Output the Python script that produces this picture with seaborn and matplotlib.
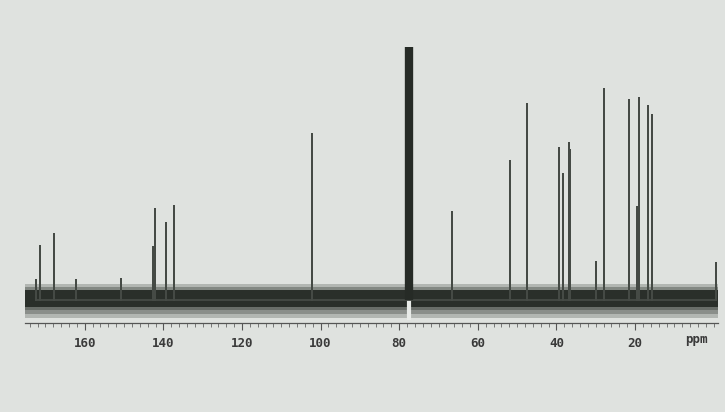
import matplotlib
matplotlib.use("Agg")
import matplotlib.pyplot as plt
import seaborn as sns
import pandas as pd

# peak positions (ppm) and heights (arbitrary units, baseline = 0)
ppm = [172.4, 171.4, 167.8, 162.2, 150.8, 142.6, 142.1, 139.3, 137.3,
       102.2, 66.6, 51.8, 47.5, 39.3, 38.3, 36.9, 36.6, 29.9, 27.9,
       21.5, 19.5, 19.0, 16.7, 15.7, -0.6]
height = [20, 54, 66, 20, 21, 53, 91, 77, 94,
          166, 88, 139, 196, 152, 126, 157, 150, 38, 211,
          200, 93, 202, 194, 185, 37]
solvent_ppm = 77.5
solvent_height = 253
tick_vals = [160, 140, 120, 100, 80, 60, 40, 20]

# stick spectrum: each peak goes 0 -> h -> 0
rows = []
for p, h in zip(ppm, height):
    rows += [(p, 0), (p, h), (p, 0)]
sticks = pd.DataFrame(rows, columns=["ppm", "intensity"])

bg = "#dfe2df"
sns.set_theme(style="white", rc={"axes.facecolor": bg, "figure.facecolor": bg})

fig = plt.figure(figsize=(7.25, 4.12), dpi=100)
ax = fig.add_axes([25 / 725, (412 - 323) / 412, 693 / 725, 323 / 412])

# noise band along the baseline: dark core with soft fringes
for lo, hi, a in [(-18, -6, 0.25), (-14, -6, 0.3), (-10, -6, 0.35),
                  (10, 16, 0.25), (10, 13, 0.35)]:
    ax.axhspan(lo, hi, color="#2e332e", alpha=a, lw=0)
ax.axhspan(-7, 10, color="#2a2f2a", lw=0)
ax.vlines(solvent_ppm, -20, 2, color="#e8ebe8", lw=3)

sns.lineplot(data=sticks, x="ppm", y="intensity", sort=False, estimator=None,
             color="#454a45", lw=1.3, ax=ax)
ax.vlines(solvent_ppm, 0, solvent_height, color="#262b26", lw=6)

ax.set_xlim(175.2, -1.1)
ax.set_ylim(-23, 300)
ax.set_xlabel("")
ax.set_ylabel("")
ax.set_yticks([])
ax.set_xticks(tick_vals)
ax.set_xticklabels([str(t) for t in tick_vals])
ax.set_xticks(range(174, -1, -2), minor=True)
ax.tick_params(axis="x", which="major", direction="out", length=5, width=0.8,
               color="#555", labelsize=9, labelcolor="#3a3a3a", pad=5, bottom=True)
ax.tick_params(axis="x", which="minor", direction="out", length=3, width=0.6,
               color="#666", bottom=True)
for lab in ax.get_xticklabels():
    lab.set_family("DejaVu Sans Mono")
    lab.set_weight("bold")
for s in ["top", "left", "right"]:
    ax.spines[s].set_visible(False)
ax.spines["bottom"].set_color("#555")
ax.spines["bottom"].set_linewidth(0.9)

ax.text(4.3, -33, "ppm", ha="center", va="top",
        fontsize=9, color="#3a3a3a", family="DejaVu Sans Mono", weight="bold")

fig.savefig("out.png", dpi=100)
